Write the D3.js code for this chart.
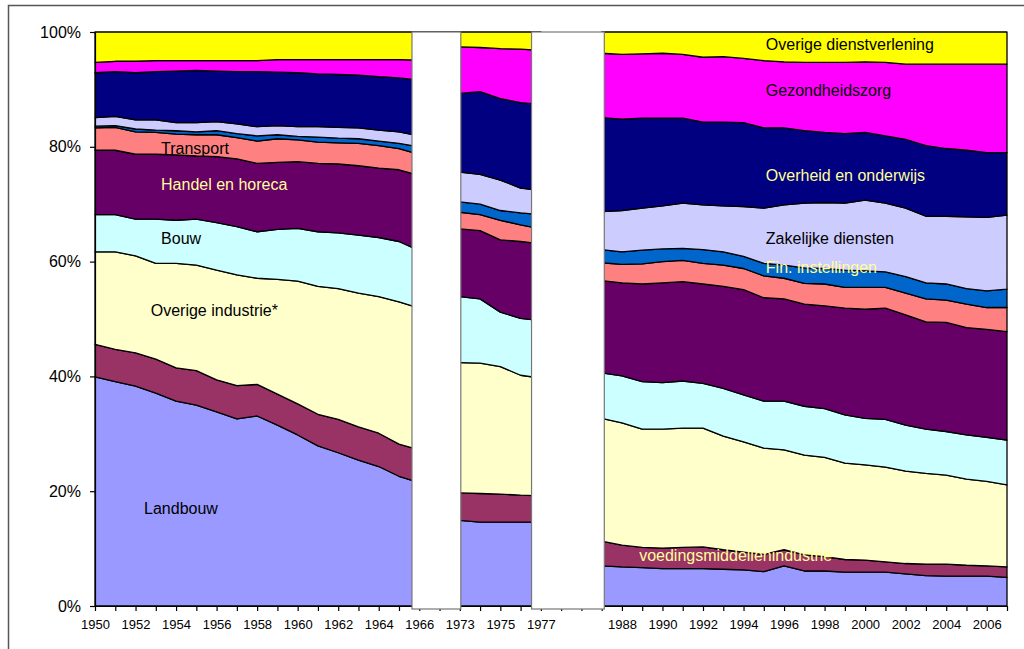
<!DOCTYPE html>
<html>
<head>
<meta charset="utf-8">
<script src="https://cdn.jsdelivr.net/npm/d3@7"></script>
<style>
  body { margin: 0; background: #fff; }
  svg { display: block; font-family: "Liberation Sans", Arial, sans-serif; }
</style>
</head>
<body>
<script>
// categories on the x axis (blank cells are gaps in the source sheet)
const categories = [
  '1950','1951','1952','1953','1954','1955','1956','1957','1958','1959','1960',
  '1961','1962','1963','1964','1965','1966','1972',
  '1973','1974','1975','1976','1977','','','1987',
  '1988','1989','1990','1991','1992','1993','1994','1995','1996','1997','1998',
  '1999','2000','2001','2002','2003','2004','2005','2006','2007'
];

// shares in % per sector, bottom to top
const landbouw = [39.9,39.1,38.3,37.1,35.7,35.0,33.8,32.6,33.1,31.5,29.8,27.9,26.7,25.4,24.3,22.6,21.5,
  14.9, 14.9,14.6,14.6,14.6,14.6, null,null,
  7.0,6.8,6.7,6.5,6.5,6.5,6.4,6.3,6.0,7.0,6.1,6.1,5.9,5.9,5.9,5.6,5.3,5.2,5.2,5.2,5.0];
const voedingsmiddelen = [5.7,5.6,5.8,5.9,5.8,6.0,5.6,5.8,5.5,5.4,5.4,5.5,5.8,5.8,5.8,5.6,5.7,
  4.8, 4.8,5.0,4.9,4.7,4.6, null,null,
  4.3,3.8,3.5,3.6,3.7,3.8,3.4,3.1,3.0,2.8,2.8,2.5,2.2,2.1,1.8,1.8,2.0,2.1,1.9,1.8,1.8];
const overigeIndustrie = [16.1,17.0,16.9,16.7,18.2,18.4,19.1,19.3,18.5,20.0,21.4,22.3,22.8,23.3,23.8,24.8,24.7,
  22.7, 22.7,22.7,22.2,20.9,20.5, null,null,
  21.4,21.3,20.6,20.7,20.8,20.7,19.8,19.2,18.5,17.4,17.4,17.3,16.8,16.6,16.5,16.1,15.8,15.5,15.0,14.7,14.3];
const bouw = [6.5,6.5,6.4,7.7,7.5,8.0,8.3,8.4,8.1,8.7,9.2,9.5,9.7,10.1,10.3,10.5,10.0,
  11.5, 11.5,11.2,9.5,9.9,10.0, null,null,
  7.9,8.2,8.3,8.1,8.2,7.8,8.3,8.2,8.2,8.5,8.5,8.5,8.4,8.1,8.3,8.0,7.7,7.6,7.7,7.7,7.8];
const handel = [11.2,11.2,11.3,11.3,11.4,11.0,11.5,11.8,11.9,11.7,11.6,11.9,12.0,12.1,12.1,12.5,13.1,
  11.8, 11.8,11.9,12.6,13.4,13.4, null,null,
  16.1,16.2,17.0,17.4,17.3,17.3,17.8,18.3,18.0,17.8,17.8,17.9,18.6,19.0,19.4,19.2,18.7,19.0,18.7,18.8,18.9];
const transport = [3.9,4.0,3.9,3.8,3.6,3.7,3.8,3.7,3.9,4.1,3.8,3.7,3.7,3.9,3.9,3.7,3.7,
  2.9, 2.9,2.8,3.4,2.9,2.6, null,null,
  3.1,3.2,3.5,3.7,3.7,3.6,3.7,3.7,3.8,3.6,3.6,3.8,3.6,3.8,3.6,3.8,4.0,3.9,4.1,3.8,4.2];
const financieel = [0.3,0.3,0.5,0.4,0.6,0.5,0.7,0.7,0.9,0.7,0.6,0.9,0.8,0.8,0.8,0.9,1.3,
  1.8, 1.8,1.8,1.7,2.1,2.5, null,null,
  2.3,2.2,2.4,2.2,2.1,2.4,2.3,2.1,2.2,2.3,2.7,2.7,3.0,2.9,2.7,2.9,2.8,2.8,2.7,2.9,3.2];
const zakelijk = [1.5,1.6,1.6,1.8,1.4,1.6,1.6,1.7,1.6,1.6,1.7,1.8,1.9,1.9,1.9,2.0,1.9,
  5.2, 5.2,5.2,5.3,4.3,4.2, null,null,
  6.6,7.2,7.3,7.5,7.9,7.8,8.0,8.7,9.6,10.5,11.3,11.5,11.7,12.3,12.0,11.9,11.6,11.8,12.5,12.8,12.9];
const overheid = [7.8,7.8,8.2,8.4,9.0,9.1,8.8,9.1,9.6,9.3,9.4,9.2,9.2,9.2,9.3,9.4,9.7,
  13.7, 13.7,14.4,14.2,14.9,15.0, null,null,
  16.4,15.9,15.7,15.3,14.8,14.4,14.6,14.6,14.0,13.4,12.6,12.2,12.1,11.8,11.7,12.0,12.3,11.8,11.6,11.3,10.9];
const gezondheid = [1.8,1.8,2.0,1.9,1.8,1.7,1.8,1.9,1.9,2.2,2.3,2.5,2.6,2.7,3.0,3.2,3.5,
  8.1, 8.1,7.7,8.7,9.3,9.4, null,null,
  11.2,11.3,11.2,11.3,11.1,11.3,11.4,11.2,11.7,11.5,11.9,12.2,12.4,12.3,12.8,13.1,14.2,14.7,15.0,15.4,15.4];
const overigeDienst = [5.3,5.1,5.1,5.0,5.0,5.0,5.0,5.0,5.0,4.8,4.8,4.8,4.8,4.8,4.8,4.8,4.9,
  2.6, 2.6,2.7,2.9,3.0,3.2, null,null,
  3.7,3.9,3.8,3.7,3.9,4.4,4.3,4.6,5.0,5.2,5.3,5.3,5.3,5.2,5.3,5.6,5.6,5.6,5.6,5.6,5.6];

const seriesNames = ['Landbouw','voedingsmiddelenindustrie','Overige industrie*','Bouw','Handel en horeca',
  'Transport','Fin. instellingen','Zakelijke diensten','Overheid en onderwijs','Gezondheidszorg','Overige dienstverlening'];
const seriesValues = [landbouw, voedingsmiddelen, overigeIndustrie, bouw, handel, transport,
  financieel, zakelijk, overheid, gezondheid, overigeDienst];
const seriesColors = ['#9999FF','#993366','#FFFFCC','#CCFFFF','#660066','#FF8080',
  '#0066CC','#CCCCFF','#000080','#FF00FF','#FFFF00'];

// in-chart labels: [text, category position, percent, colour]
const labelTexts  = ['Landbouw','voedingsmiddellenindustrie','Overige industrie*','Bouw','Handel en horeca','Transport',
  'Fin. instellingen','Zakelijke diensten','Overheid en onderwijs','Gezondheidszorg','Overige dienstverlening'];
const labelX      = [2.42, 26.85, 2.75, 3.26, 3.26, 3.26, 33.1, 33.1, 33.1, 33.1, 33.1];
const labelY      = [16.0, 7.8, 50.6, 63.1, 72.5, 78.7, 58.0, 63.1, 74.0, 88.9, 96.9];
const labelColors = ['#000','#FFFF99','#000','#000','#FFFF99','#000','#FFFF99','#000','#FFFF99','#000','#000'];

// parts of the axis hidden behind white boxes (category positions)
const gapBoxes = [[15.64, 18.05], [21.54, 25.13]];

const W = 1024, H = 649;
const margin = { top: 32, right: 17, bottom: 43, left: 95 };

const svg = d3.select('body').append('svg')
  .attr('width', W)
  .attr('height', H);

// outer chart frame
svg.append('rect')
  .attr('x', 8.5).attr('y', 5.5)
  .attr('width', 1100).attr('height', 700)
  .attr('fill', 'none')
  .attr('stroke', '#555')
  .attr('stroke-width', 1.5);

const x = d3.scaleLinear()
  .domain([0, categories.length - 1])
  .range([margin.left, W - margin.right]);
const y = d3.scaleLinear()
  .domain([0, 1])
  .range([H - margin.bottom, margin.top]);

// build rows for d3.stack
const keys = seriesNames;
const rows = categories.map((c, i) => {
  const r = { idx: i, gap: landbouw[i] == null };
  keys.forEach((k, j) => { r[k] = seriesValues[j][i] == null ? 0 : seriesValues[j][i]; });
  return r;
});

const stack = d3.stack()
  .keys(keys)
  .offset(d3.stackOffsetExpand);
const layers = stack(rows);

const area = d3.area()
  .defined(d => !d.data.gap)
  .x(d => x(d.data.idx))
  .y0(d => y(d[0]))
  .y1(d => y(d[1]));

svg.append('g')
  .selectAll('path')
  .data(layers)
  .enter().append('path')
    .attr('fill', (d, i) => seriesColors[i])
    .attr('stroke', '#000')
    .attr('stroke-width', 1.3)
    .attr('stroke-linejoin', 'round')
    .attr('d', area);

// axes
const yAxis = svg.append('g')
  .attr('transform', 'translate(' + margin.left + ',0)')
  .call(d3.axisLeft(y)
    .tickValues([0, 0.2, 0.4, 0.6, 0.8, 1])
    .tickFormat(d3.format('.0%'))
    .tickSize(5)
    .tickSizeOuter(0)
    .tickPadding(9));

const xAxis = svg.append('g')
  .attr('transform', 'translate(0,' + (H - margin.bottom) + ')')
  .call(d3.axisBottom(x)
    .tickValues(d3.range(categories.length))
    .tickFormat(i => i % 2 === 0 ? categories[i] : '')
    .tickSize(5)
    .tickSizeOuter(0)
    .tickPadding(9));

[yAxis, xAxis].forEach(g => {
  g.selectAll('path, line').attr('stroke', '#000').attr('stroke-width', 1.2);
  g.selectAll('text').attr('fill', '#000').attr('font-family', '"Liberation Sans", Arial, sans-serif');
});
yAxis.selectAll('text').attr('font-size', 16);
xAxis.selectAll('text').attr('font-size', 13);

// white boxes covering the years without data
svg.append('g')
  .selectAll('rect')
  .data(gapBoxes)
  .enter().append('rect')
    .attr('x', d => x(d[0]))
    .attr('y', y(1))
    .attr('width', d => x(d[1]) - x(d[0]))
    .attr('height', y(0) - y(1) + 3)
    .attr('fill', '#fff')
    .attr('stroke', '#777')
    .attr('stroke-width', 1.2);

// sector labels
svg.append('g')
  .selectAll('text')
  .data(labelTexts)
  .enter().append('text')
    .attr('x', (d, i) => x(labelX[i]))
    .attr('y', (d, i) => y(labelY[i] / 100))
    .attr('fill', (d, i) => labelColors[i])
    .attr('font-size', 16)
    .text(d => d);
</script>
</body>
</html>
